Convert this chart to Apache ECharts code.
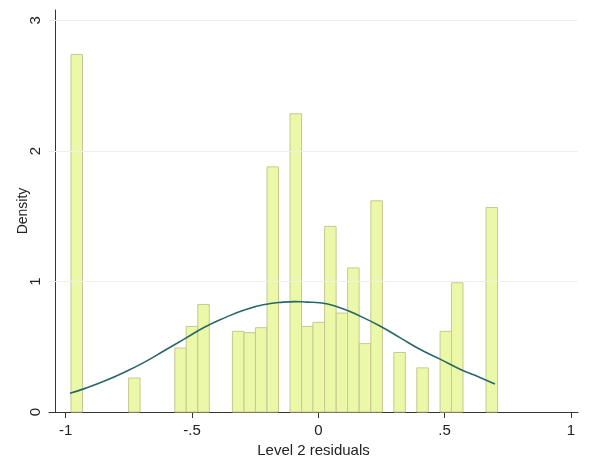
<!DOCTYPE html>
<html>
<head>
<meta charset="utf-8">
<script src="https://cdn.jsdelivr.net/npm/echarts@6/dist/echarts.min.js"></script>
<style>
  html, body { margin: 0; padding: 0; background: #fff; }
  #main { width: 589px; height: 458px; }
</style>
</head>
<body>
<div id="main"></div>
<script>
// histogram bins (left edge of each non-empty bin) and densities
var binWidth = 0.0456;
var binLeft = [-0.979, -0.751, -0.568, -0.523, -0.477, -0.340, -0.294, -0.249, -0.203,
	-0.112, -0.066, -0.021, 0.025, 0.071, 0.116, 0.162, 0.208, 0.299, 0.390, 0.482, 0.527, 0.664];
var density = [2.74, 0.26, 0.49, 0.656, 0.824, 0.618, 0.608, 0.646, 1.878,
	2.285, 0.656, 0.687, 1.422, 0.758, 1.104, 0.524, 1.618, 0.456, 0.338, 0.618, 0.99, 1.567];

// normal density curve
var curveX = [-0.983, -0.923, -0.844, -0.765, -0.686, -0.607, -0.528, -0.449, -0.369, -0.290,
	-0.211, -0.139, -0.092, -0.046, 0.007, 0.086, 0.165, 0.244, 0.323, 0.402, 0.482, 0.561, 0.640, 0.699];
var curveY = [0.143, 0.181, 0.239, 0.307, 0.384, 0.473, 0.562, 0.651, 0.723, 0.784,
	0.824, 0.842, 0.846, 0.842, 0.837, 0.799, 0.735, 0.659, 0.570, 0.481, 0.405, 0.328, 0.265, 0.214];

var xTicks = [-1, -0.5, 0, 0.5, 1];
var xTickText = ['-1', '-.5', '0', '.5', '1'];
var yTicks = [0, 1, 2, 3];

var myChart = echarts.init(document.getElementById('main'));

var bars = binLeft.map(function (x, i) { return [x, x + binWidth, density[i]]; });
var curve = curveX.map(function (x, i) { return [x, curveY[i]]; });

var fontFamily = 'Liberation Sans, Arial, sans-serif';

option = {
	backgroundColor: '#fff',
	animation: false,
	grid: { left: 49, right: 11, top: 10, bottom: 46, outerBoundsMode: 'none', containLabel: false },
	xAxis: {
		type: 'value',
		min: -1.066,
		max: 1.028,
		name: 'Level 2 residuals',
		nameLocation: 'middle',
		nameGap: 31,
		nameMoveOverlap: false,
		nameTextStyle: { color: '#222', fontSize: 15, fontFamily: fontFamily },
		axisLine: { show: true, onZero: false, lineStyle: { color: '#333', width: 1 } },
		axisTick: { show: true, length: 6, customValues: xTicks, lineStyle: { color: '#333' } },
		axisLabel: {
			customValues: xTicks,
			margin: 11,
			color: '#222', fontSize: 15, fontFamily: fontFamily,
			formatter: function (v) {
				var i = xTicks.indexOf(v);
				return i >= 0 ? xTickText[i] : '';
			}
		},
		splitLine: { show: false }
	},
	yAxis: {
		type: 'value',
		min: 0,
		max: 3.08,
		offset: -6,
		name: 'Density',
		nameLocation: 'middle',
		nameGap: 25,
		nameMoveOverlap: false,
		nameTextStyle: { color: '#222', fontSize: 14, fontFamily: fontFamily },
		axisLine: { show: true, onZero: false, lineStyle: { color: '#333', width: 1 } },
		axisTick: { show: true, length: 6, customValues: yTicks, lineStyle: { color: '#333' } },
		axisLabel: {
			customValues: yTicks,
			rotate: 90,
			margin: 12,
			color: '#222', fontSize: 15, fontFamily: fontFamily
		},
		splitLine: { show: false }
	},
	series: [{
		type: 'custom',
		data: bars,
		encode: { x: [0, 1], y: 2 },
		renderItem: function (params, api) {
			var p0 = api.coord([api.value(0), 0]);
			var p1 = api.coord([api.value(1), api.value(2)]);
			return {
				type: 'rect',
				shape: { x: p0[0], y: p1[1], width: p1[0] - p0[0], height: p0[1] - p1[1] },
				style: { fill: '#ebf8a8', stroke: '#c9c790', lineWidth: 1 }
			};
		},
		markLine: {
			silent: true,
			symbol: 'none',
			label: { show: false },
			lineStyle: { color: '#efefef', type: 'solid', width: 1 },
			data: [{ yAxis: 1 }, { yAxis: 2 }, { yAxis: 3 }]
		},
		z: 2
	}, {
		type: 'line',
		data: curve,
		smooth: true,
		showSymbol: false,
		lineStyle: { color: '#2a6767', width: 1.6 },
		z: 3
	}]
};

myChart.setOption(option, true);
</script>
</body>
</html>
